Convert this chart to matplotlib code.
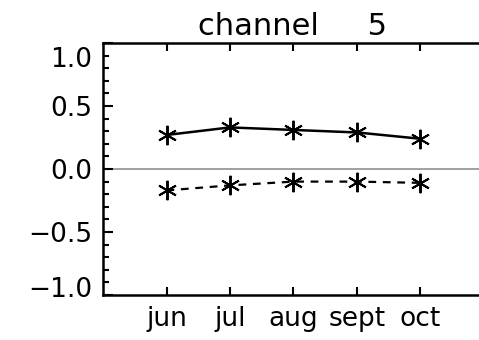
import matplotlib
matplotlib.use("Agg")
import matplotlib.pyplot as plt
from matplotlib.ticker import MultipleLocator
from matplotlib.transforms import ScaledTranslation

months = ["jun", "jul", "aug", "sept", "oct"]
x_pos = [1, 2, 3, 4, 5]
upper = [0.27, 0.33, 0.31, 0.29, 0.24]
lower = [-0.17, -0.13, -0.10, -0.10, -0.11]
yticks = [-1.0, -0.5, 0.0, 0.5, 1.0]
ytick_labels = ["\u22121.0", "\u22120.5", "0.0", "0.5", "1.0"]

fig = plt.figure(figsize=(4.79, 3.40), dpi=100)
W, H = 479, 340
ax = fig.add_axes([103 / W, 1 - 295 / H, (484 - 103) / W, (295 - 43) / H])

ax.axhline(0, color="#999999", lw=1.3, zorder=1)
ax.plot(x_pos, upper, color="black", lw=1.8, ls="-",
        marker=(6, 2, 0), ms=14, mew=1.4, zorder=3)
ax.plot(x_pos, lower, color="black", lw=1.6, ls=(0, (3.5, 3)),
        marker=(6, 2, 0), ms=14, mew=1.4, zorder=3)

ax.set_xlim(0, 6)
ax.set_ylim(-1.0, 1.0)
ax.set_xticks(x_pos)
ax.set_xticklabels(months)
ax.set_yticks(yticks)
ax.set_yticklabels(ytick_labels)
ax.yaxis.set_minor_locator(MultipleLocator(0.1))

ax.tick_params(axis="x", which="both", direction="in", top=True, bottom=True,
               length=6, width=1.5, labelsize=19, pad=8)
ax.tick_params(axis="y", which="major", direction="in", left=True, right=False,
               length=7, width=1.5, labelsize=19, pad=8)
ax.tick_params(axis="y", which="minor", direction="in", left=True, right=False,
               length=4.5, width=1.5)
for s in ["left", "bottom", "top"]:
    ax.spines[s].set_linewidth(1.8)
ax.spines["right"].set_visible(False)

# end labels sit inside the axis range, as in the original
labels = ax.get_yticklabels()
labels[-1].set_transform(labels[-1].get_transform()
                         + ScaledTranslation(0, -14 / 100, fig.dpi_scale_trans))
labels[0].set_transform(labels[0].get_transform()
                        + ScaledTranslation(0, 8 / 100, fig.dpi_scale_trans))

fig.text(293 / W, 1 - 35 / H, "channel     5", ha="center", va="baseline", fontsize=22)

fig.savefig("out.png", dpi=100)
